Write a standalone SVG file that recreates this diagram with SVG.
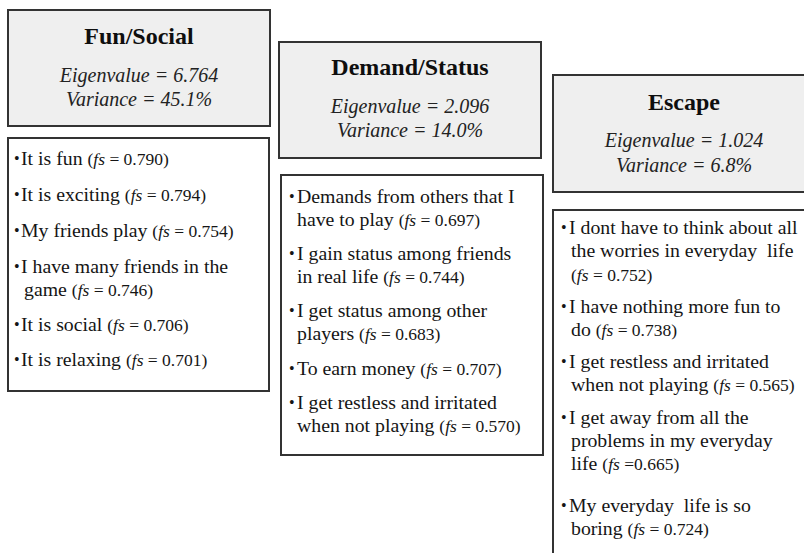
<svg xmlns="http://www.w3.org/2000/svg" width="804" height="553" viewBox="0 0 804 553">
<style>
.hdr{fill:#efefef;stroke:#333;stroke-width:2}
.body{fill:#fff;stroke:#333;stroke-width:2}
text{font-family:"Liberation Serif","Times New Roman",serif;fill:#151515}
.ttl{font-size:24px;font-weight:bold;text-anchor:middle;fill:#0e0e0e}
.stat{font-size:20px;font-style:italic;text-anchor:middle;fill:#222}
.it{font-size:19.8px}
.bl{font-size:16px}
.fs{font-size:17.5px}
.i{font-style:italic}
.pre{white-space:pre}
</style>
<rect width="804" height="553" fill="#fff"/>

<g id="fun-social-header">
<rect class="hdr" x="8" y="10" width="262" height="116"/>
<text class="ttl" x="139" y="44">Fun/Social</text>
<text class="stat" x="139" y="82">Eigenvalue = 6.764</text>
<text class="stat" x="139" y="106">Variance = 45.1%</text>
</g>

<g id="fun-social-items">
<rect class="body" x="8" y="138" width="261" height="253"/>
<text class="bl" x="14" y="164">•</text>
<text class="it" x="21" y="165">It is fun <tspan class="fs">(<tspan class="i">fs</tspan> = 0.790)</tspan></text>
<text class="bl" x="14" y="200">•</text>
<text class="it" x="21" y="201">It is exciting <tspan class="fs">(<tspan class="i">fs</tspan> = 0.794)</tspan></text>
<text class="bl" x="14" y="236">•</text>
<text class="it" x="21" y="237">My friends play <tspan class="fs">(<tspan class="i">fs</tspan> = 0.754)</tspan></text>
<text class="bl" x="14" y="272">•</text>
<text class="it" x="21" y="273">I have many friends in the</text>
<text class="it" x="24" y="296">game <tspan class="fs">(<tspan class="i">fs</tspan> = 0.746)</tspan></text>
<text class="bl" x="14" y="330">•</text>
<text class="it" x="21" y="331">It is social <tspan class="fs">(<tspan class="i">fs</tspan> = 0.706)</tspan></text>
<text class="bl" x="14" y="365">•</text>
<text class="it" x="21" y="366">It is relaxing <tspan class="fs">(<tspan class="i">fs</tspan> = 0.701)</tspan></text>
</g>

<g id="demand-status-header">
<rect class="hdr" x="279" y="42" width="262" height="116"/>
<text class="ttl" x="410" y="75">Demand/Status</text>
<text class="stat" x="410" y="113">Eigenvalue = 2.096</text>
<text class="stat" x="410" y="137">Variance = 14.0%</text>
</g>

<g id="demand-status-items">
<rect class="body" x="281" y="175" width="262" height="280"/>
<text class="bl" x="289" y="202">•</text>
<text class="it" x="297" y="203">Demands from others that I</text>
<text class="it" x="297" y="226">have to play <tspan class="fs">(<tspan class="i">fs</tspan> = 0.697)</tspan></text>
<text class="bl" x="289" y="259">•</text>
<text class="it" x="297" y="260">I gain status among friends</text>
<text class="it" x="297" y="283">in real life <tspan class="fs">(<tspan class="i">fs</tspan> = 0.744)</tspan></text>
<text class="bl" x="289" y="316">•</text>
<text class="it" x="297" y="317">I get status among other</text>
<text class="it" x="297" y="340">players <tspan class="fs">(<tspan class="i">fs</tspan> = 0.683)</tspan></text>
<text class="bl" x="289" y="374">•</text>
<text class="it" x="297" y="375">To earn money <tspan class="fs">(<tspan class="i">fs</tspan> = 0.707)</tspan></text>
<text class="bl" x="289" y="408">•</text>
<text class="it" x="297" y="409">I get restless and irritated</text>
<text class="it" x="297" y="432">when not playing <tspan class="fs">(<tspan class="i">fs</tspan> = 0.570)</tspan></text>
</g>

<g id="escape-header">
<rect class="hdr" x="553" y="75" width="262" height="117"/>
<text class="ttl" x="684" y="110">Escape</text>
<text class="stat" x="684" y="147">Eigenvalue = 1.024</text>
<text class="stat" x="684" y="172">Variance = 6.8%</text>
</g>

<g id="escape-items">
<rect class="body" x="553" y="210" width="262" height="360"/>
<text class="bl" x="561" y="233">•</text>
<text class="it" x="569" y="234">I dont have to think about all</text>
<text class="it pre" x="571" y="257">the worries in everyday  life</text>
<text class="it" x="571" y="281"><tspan class="fs">(<tspan class="i">fs</tspan> = 0.752)</tspan></text>
<text class="bl" x="561" y="312">•</text>
<text class="it" x="569" y="313">I have nothing more fun to</text>
<text class="it" x="571" y="336">do <tspan class="fs">(<tspan class="i">fs</tspan> = 0.738)</tspan></text>
<text class="bl" x="561" y="367">•</text>
<text class="it" x="569" y="368">I get restless and irritated</text>
<text class="it" x="571" y="391">when not playing <tspan class="fs">(<tspan class="i">fs</tspan> = 0.565)</tspan></text>
<text class="bl" x="561" y="423">•</text>
<text class="it" x="569" y="424">I get away from all the</text>
<text class="it" x="571" y="447">problems in my everyday</text>
<text class="it" x="571" y="470">life <tspan class="fs">(<tspan class="i">fs</tspan> =0.665)</tspan></text>
<text class="bl" x="561" y="511">•</text>
<text class="it pre" x="569" y="512">My everyday  life is so</text>
<text class="it" x="571" y="535">boring <tspan class="fs">(<tspan class="i">fs</tspan> = 0.724)</tspan></text>
</g>
</svg>
